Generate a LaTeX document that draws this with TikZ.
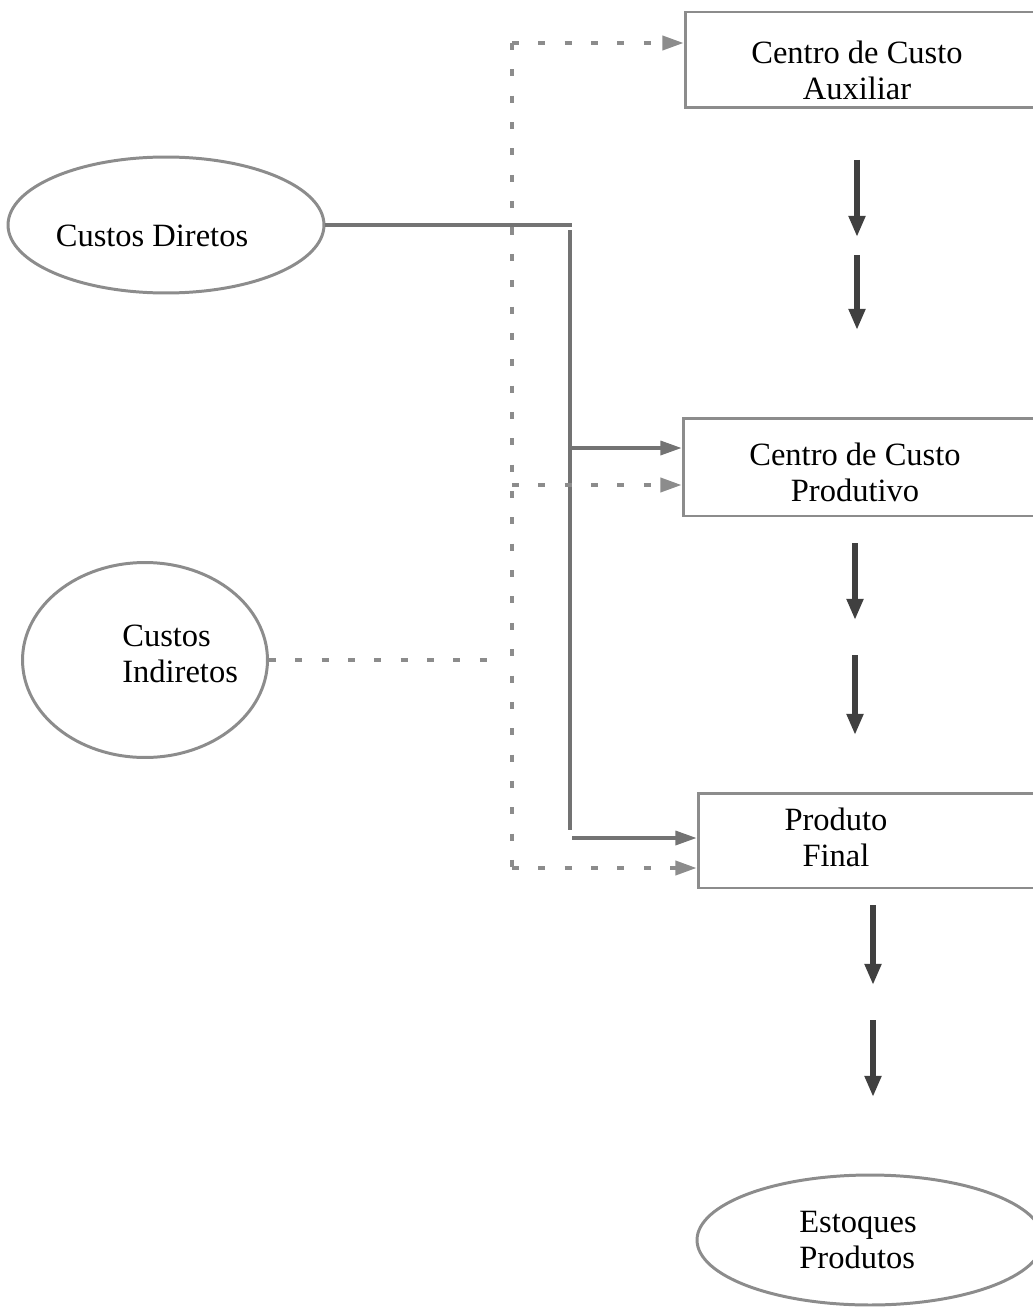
\documentclass[tikz,border=0pt]{standalone}
\usepackage{fontspec}
\setmainfont{Liberation Serif}
\usetikzlibrary{shapes.geometric,arrows.meta}
\begin{document}
\begin{tikzpicture}[
	x=0.02cm, y=-0.02cm,
	cell/.style={
		rectangle,
		draw=black!45,
		line width=1.7pt,
		inner sep=0pt,
	},
	blob/.style={
		ellipse,
		draw=black!45,
		line width=1.7pt,
		inner sep=0pt,
	},
	txt/.style={
		font=\fontsize{18.5}{20.5}\selectfont,
		align=center,
		inner sep=0pt,
	},
	ArrowS/.style={% solid flow of direct costs
		draw=black!55,
		line width=1.8pt,
		-{Triangle[length=12pt,width=8pt]},
	},
	ArrowD/.style={% dashed flow of indirect costs
		draw=black!45,
		line width=2pt,
		dash pattern=on 4pt off 11pt,
		-{Triangle[length=12pt,width=8pt]},
	},
	ArrowV/.style={% downward steps
		draw=black!75,
		line width=3pt,
		-{Triangle[length=12pt,width=9pt]},
	},
]
	\useasboundingbox (0,0) rectangle (1033,1311);

	% boxes and ellipses
	\node [cell, minimum width=7.2cm, minimum height=1.92cm] (aux) at (865,60) {};
	\node [cell, minimum width=7.24cm, minimum height=1.96cm] (prod) at (864,467) {};
	\node [cell, minimum width=6.94cm, minimum height=1.9cm] (final) at (871.5,840.5) {};
	\node [blob, minimum width=6.32cm, minimum height=2.72cm] (dir) at (166,225) {};
	\node [blob, minimum width=4.9cm, minimum height=3.9cm] (ind) at (145,660) {};
	\node [blob, minimum width=6.92cm, minimum height=2.6cm] (est) at (870,1240) {};

	% texts
	\node [txt] (auxtxt) at (857,70) {Centro de Custo\\Auxiliar};
	\node [txt] (prodtxt) at (855,472) {Centro de Custo\\Produtivo};
	\node [txt] (finaltxt) at (836,837) {Produto\\Final};
	\node [txt] (dirtxt) at (152,236) {Custos Diretos};
	\node [txt, align=left, anchor=west] (indtxt) at (122,654) {Custos\\Indiretos};
	\node [txt, align=left, anchor=west] (esttxt) at (799,1240) {Estoques\\Produtos};

	% solid lines
	\coordinate (dj) at (572,225);
	\coordinate (stop) at (570,230);
	\coordinate (sbot) at (570,830);
	\coordinate (sprod) at (570,448);
	\coordinate (sfin) at (572,838);

	\draw [ArrowS,-] (dir.east) -- (dj);
	\draw [ArrowS,-] (stop) -- (sbot);
	\draw [ArrowS] (sprod) -- (sprod -| prod.west);
	\draw [ArrowS] (sfin) -- (sfin -| final.west);

	% dashed lines
	\coordinate (dtop) at (512,43);
	\coordinate (dprod) at (512,485);
	\coordinate (dbot) at (512,868);
	\coordinate (indend) at (490,660);

	\draw [ArrowD,-] (dtop) -- (dbot);
	\draw [ArrowD] (dtop) -- (dtop -| aux.west);
	\draw [ArrowD] (dprod) -- (dprod -| prod.west);
	\draw [ArrowD] (dbot) -- (dbot -| final.west);
	\draw [ArrowD,-] (ind.east) -- (indend);

	% downward arrows
	\foreach \n/\x/\ya/\yb in {a/857/160/237, b/857/255/330, c/855/543/620, d/855/655/735, e/873/905/985, f/873/1020/1097} {
		\coordinate (v\n1) at (\x,\ya);
		\coordinate (v\n2) at (\x,\yb);
		\draw [ArrowV] (v\n1) -- (v\n2);
	}
\end{tikzpicture}
\end{document}
